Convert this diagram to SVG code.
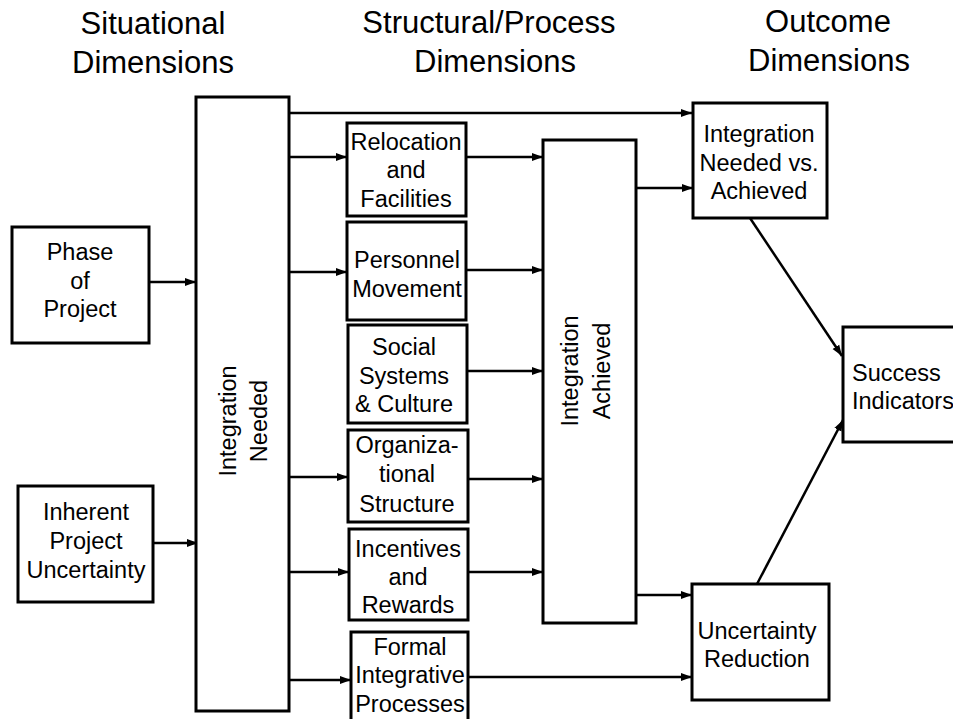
<svg xmlns="http://www.w3.org/2000/svg" width="953" height="719" viewBox="0 0 953 719">
<style>
.box{fill:#fff;stroke:#000;stroke-width:3}
.t{font-family:"Liberation Sans",Arial,sans-serif;font-size:23.5px;text-anchor:middle;fill:#000}
.l{text-anchor:start}
.h{font-family:"Liberation Sans",Arial,sans-serif;font-size:31px;text-anchor:middle;fill:#000}
.c{stroke:#000;stroke-width:2.5;fill:none;marker-end:url(#ah)}
</style>
<defs>
<marker id="ah" markerUnits="userSpaceOnUse" markerWidth="12" markerHeight="10" refX="11" refY="5" orient="auto">
<path d="M0,1 L11,5 L0,9 z" fill="#000"/>
</marker>
</defs>
<rect width="953" height="719" fill="#fff"/>
<g id="titles">
<text class="h" x="153" y="34">Situational</text>
<text class="h" x="153" y="73">Dimensions</text>
<text class="h" x="489" y="33">Structural/Process</text>
<text class="h" x="495" y="72">Dimensions</text>
<text class="h" x="828" y="32">Outcome</text>
<text class="h" x="829" y="71">Dimensions</text>
</g>
<g id="connectors">
<path class="c" d="M149,282 H196"/>
<path class="c" d="M153,543 H198"/>
<path class="c" d="M289,113 H692"/>
<path class="c" d="M289,157 H347"/>
<path class="c" d="M289,272 H347"/>
<path class="c" d="M289,477 H348"/>
<path class="c" d="M289,572 H349"/>
<path class="c" d="M289,680 H351"/>
<path class="c" d="M466,157 H543"/>
<path class="c" d="M466,270 H543"/>
<path class="c" d="M463,371 H543"/>
<path class="c" d="M468,479 H543"/>
<path class="c" d="M468,572 H543"/>
<path class="c" d="M466,677 H692"/>
<path class="c" d="M636,188 H693"/>
<path class="c" d="M636,595 H692"/>
<path class="c" d="M750,218 L842,356"/>
<path class="c" d="M757,584 L843,420"/>
</g>
<g id="phase">
<rect class="box" x="12" y="227" width="137" height="116"/>
<text class="t" x="80" y="260">Phase</text>
<text class="t" x="80" y="289">of</text>
<text class="t" x="80" y="317">Project</text>
</g>
<g id="uncertainty">
<rect class="box" x="18" y="486" width="135" height="116"/>
<text class="t" x="86" y="520">Inherent</text>
<text class="t" x="86" y="549">Project</text>
<text class="t" x="86" y="578">Uncertainty</text>
</g>
<g id="needed">
<rect class="box" x="196" y="97" width="93" height="614"/>
<text class="t" transform="translate(236,421) rotate(-90)">Integration</text>
<text class="t" transform="translate(267,421) rotate(-90)">Needed</text>
</g>
<g id="relocation">
<rect class="box" x="347" y="123" width="119" height="93"/>
<text class="t" x="406" y="150">Relocation</text>
<text class="t" x="406" y="178">and</text>
<text class="t" x="406" y="207">Facilities</text>
</g>
<g id="personnel">
<rect class="box" x="347" y="222" width="119" height="98"/>
<text class="t" x="407" y="268">Personnel</text>
<text class="t" x="407" y="297">Movement</text>
</g>
<g id="social">
<rect class="box" x="348" y="325" width="119" height="98"/>
<text class="t" x="404" y="355">Social</text>
<text class="t" x="404" y="384">Systems</text>
<text class="t" x="404" y="412">&amp; Culture</text>
</g>
<g id="organizational">
<rect class="box" x="348" y="430" width="120" height="92"/>
<text class="t" x="407" y="453">Organiza-</text>
<text class="t" x="407" y="482">tional</text>
<text class="t" x="407" y="512">Structure</text>
</g>
<g id="incentives">
<rect class="box" x="349" y="529" width="119" height="91"/>
<text class="t" x="408" y="557">Incentives</text>
<text class="t" x="408" y="585">and</text>
<text class="t" x="408" y="613">Rewards</text>
</g>
<g id="formal">
<path class="box" d="M351,725 V632 H468 V725"/>
<text class="t" x="410" y="655">Formal</text>
<text class="t" x="410" y="683">Integrative</text>
<text class="t" x="410" y="712">Processes</text>
</g>
<g id="achieved">
<rect class="box" x="543" y="140" width="93" height="483"/>
<text class="t" transform="translate(578,371) rotate(-90)">Integration</text>
<text class="t" transform="translate(610,371) rotate(-90)">Achieved</text>
</g>
<g id="needed-vs-achieved">
<rect class="box" x="693" y="103" width="134" height="115"/>
<text class="t" x="759" y="142">Integration</text>
<text class="t" x="759" y="171">Needed vs.</text>
<text class="t" x="759" y="199">Achieved</text>
</g>
<g id="uncertainty-reduction">
<rect class="box" x="692" y="584" width="137" height="116"/>
<text class="t" x="757" y="639">Uncertainty</text>
<text class="t" x="757" y="667">Reduction</text>
</g>
<g id="success">
<rect class="box" x="843" y="327" width="130" height="115"/>
<text class="t l" x="852" y="381">Success</text>
<text class="t l" x="852" y="409">Indicators</text>
</g>
</svg>
